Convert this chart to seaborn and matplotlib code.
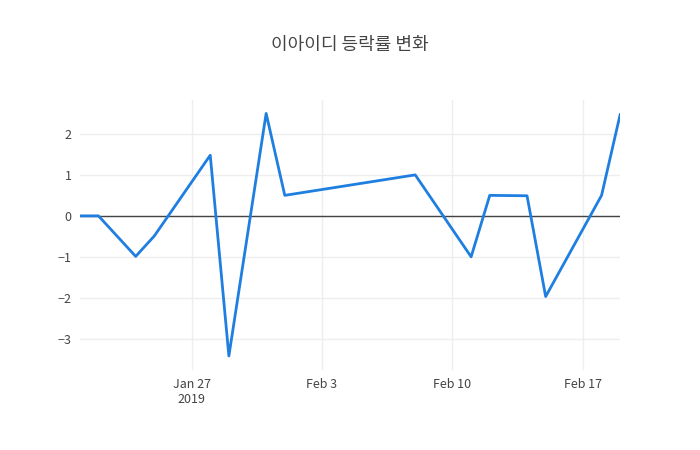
import pandas as pd
import seaborn as sns
import matplotlib.pyplot as plt
import matplotlib.dates as mdates

dates = ["2019-01-21", "2019-01-22", "2019-01-24", "2019-01-25", "2019-01-28",
         "2019-01-29", "2019-01-31", "2019-02-01", "2019-02-08", "2019-02-11",
         "2019-02-12", "2019-02-14", "2019-02-15", "2019-02-18", "2019-02-19"]
rates = [0.0, 0.0, -0.99, -0.49, 1.48, -3.42, 2.5, 0.5, 1.0, -1.0,
         0.5, 0.49, -1.97, 0.5, 2.48]

df = pd.DataFrame({"date": pd.to_datetime(dates), "rate": rates})

sns.set_theme(style="white")
plt.rcParams['font.family'] = ['Noto Sans CJK KR', 'DejaVu Sans']

fig = plt.figure(figsize=(7, 4.5), dpi=100)
ax = fig.add_axes([0.114, 0.178, 0.772, 0.6])
sns.lineplot(data=df, x="date", y="rate", ax=ax, color="#1f7fe0", linewidth=2)
ax.axhline(0, color="#444444", linewidth=1, zorder=1)

ax.set_xlim(pd.Timestamp("2019-01-21"), pd.Timestamp("2019-02-19"))
ax.set_ylim(-3.76, 2.83)
ticks = pd.to_datetime(["2019-01-27", "2019-02-03", "2019-02-10", "2019-02-17"])
ax.set_xticks(ticks)
ax.set_xticklabels(["Jan 27\n2019", "Feb 3", "Feb 10", "Feb 17"])
ax.set_yticks([-3, -2, -1, 0, 1, 2])
ax.set_yticklabels(["\u22123", "\u22122", "\u22121", "0", "1", "2"])
ax.grid(True, color="#eeeeee", linewidth=1)
ax.set_axisbelow(True)
for s in ax.spines.values():
    s.set_visible(False)
ax.tick_params(length=0, labelsize=9, colors="#444444", pad=6)
ax.set_xlabel("")
ax.set_ylabel("")
fig.suptitle("이아이디 등락률 변화", y=0.92, fontsize=13, color="#444444")

fig.savefig("out.png", dpi=100)
